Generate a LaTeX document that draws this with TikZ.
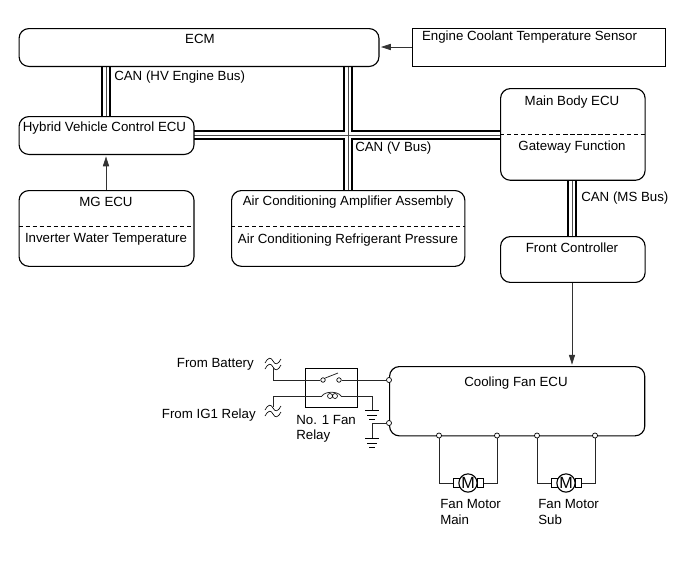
\documentclass[tikz,border=0pt]{standalone}
\usepackage{fontspec}
\setmainfont{Liberation Sans}
\usetikzlibrary{arrows.meta}
\begin{document}
\begin{tikzpicture}[
	x=0.025cm, y=-0.025cm,
	every node/.style={ font=\fontsize{9.45}{10}\selectfont, inner sep=0pt },
	unit/.style={ rectangle, draw, line width=0.8pt, rounded corners=7pt, anchor=north west },
	sensor/.style={ rectangle, draw, line width=0.8pt, anchor=north west },
	bus/.style={ line width=6.5pt, postaction={draw=white, line width=4.3pt, postaction={draw=black!70, line width=0.6pt}} },
	signal/.style={ -{Triangle[length=7pt,width=4.4pt]}, line width=0.5pt, black!80, shorten >=1pt },
	wire/.style={ line width=0.55pt, black!85 },
	split/.style={ dash pattern=on 3pt off 2pt, line width=0.4pt },
	terminal/.style={ circle, draw, line width=0.5pt, fill=white, minimum size=3.6pt },
	contact/.style={ circle, draw, line width=0.5pt, fill=white, minimum size=3.2pt },
	motor/.style={ circle, draw, line width=0.8pt, fill=white, minimum size=13pt, font=\fontsize{11.5}{12}\selectfont },
	brush/.style={ rectangle, draw, line width=0.6pt, fill=white, minimum width=3.8pt, minimum height=6pt },
	wavebreak/.pic={
		\draw[line width=0.45pt] (-8,-1) .. controls (-5,-7) and (-2,-7) .. (0,-3) .. controls (2,1) and (5,1) .. (8,-5);
		\draw[line width=0.45pt] (-8,5) .. controls (-5,-1) and (-2,-1) .. (0,3) .. controls (2,7) and (5,7) .. (8,1);
	},
	earth/.pic={
		\draw[line width=0.6pt] (-7,0) -- (7,0);
		\draw[line width=0.6pt] (-5,5) -- (5,5);
		\draw[line width=0.6pt] (-3,9) -- (3,9);
	}
]
\useasboundingbox (0,0) rectangle (690,562);

% CAN lines, drawn below the units
\coordinate (ecmbot) at (348,66);
\coordinate (acnorth) at (348,190);
\coordinate (hvbus) at (194,135);
\coordinate (mainbus) at (500,135);
\coordinate (hvtop) at (106,116);
\coordinate (ecmleft) at (106,66);
\coordinate (maindown) at (572,180);
\coordinate (frontup) at (572,236);
\draw[bus] (ecmbot) -- (acnorth) (hvbus) -- (mainbus)
	(ecmleft) -- (hvtop) (maindown) -- (frontup);

\node (ecm) [unit,minimum width=361*0.709pt,minimum height=38*0.709pt] at (18.5,28) {};
\node at (200,39) {ECM};
\node (coolant) [sensor,minimum width=254*0.709pt,minimum height=38*0.709pt] at (412,28) {};
\node at (529.5,37.5) {Engine Coolant Temperature Sensor};
\node (hv) [unit,minimum width=175.5*0.709pt,minimum height=38*0.709pt] at (18.5,116) {};
\node at (104.5,128) {Hybrid Vehicle Control ECU};
\node (mainbody) [unit,minimum width=145*0.709pt,minimum height=92*0.709pt] at (500,88) {};
\node at (572,102) {Main Body ECU};
\draw[split] (500,134) -- (645,134);
\node at (572,147) {Gateway Function};
\node (mg) [unit,minimum width=175.5*0.709pt,minimum height=76*0.709pt] at (18.5,190) {};
\node at (106,202) {MG ECU};
\draw[split] (18.5,226) -- (194,226);
\node at (106,239) {Inverter Water Temperature};
\node (ac) [unit,minimum width=234*0.709pt,minimum height=76*0.709pt] at (231,190) {};
\node at (348,202) {Air Conditioning Amplifier Assembly};
\draw[split] (231,226) -- (465,226);
\node at (348,240) {Air Conditioning Refrigerant Pressure};
\node (front) [unit,minimum width=145*0.709pt,minimum height=46*0.709pt] at (500,236) {};
\node at (572,248) {Front Controller};
\node (fan) [unit,minimum width=256*0.709pt,minimum height=69.5*0.709pt] at (389,366) {};
\node at (516,383) {Cooling Fan ECU};

\node (canhv) [anchor=west] at (114,77) {CAN (HV Engine Bus)};
\node (canv) [anchor=west] at (355,148) {CAN (V Bus)};
\node (canms) [anchor=west] at (581,198) {CAN (MS Bus)};

\draw[signal] (coolant.west |- 0,47) -- (ecm.east |- 0,47);
\draw[signal] (mg.north -| hvtop) -- (hv.south -| hvtop);
\draw[signal] (front.south -| frontup) -- (fan.north -| frontup);

% fan relay
\node (relay) [sensor,minimum width=52*0.709pt,minimum height=39*0.709pt] at (305,368) {};
\node (nofan) [anchor=west] at (296,420) {No. 1 Fan};
\node (norelay) [anchor=west] at (296,436) {Relay};
\node (battery) [anchor=east] at (254,364) {From Battery};
\node (igrelay) [anchor=east] at (256,415) {From IG1 Relay};
\pic at (273,364) {wavebreak};
\pic at (273,411) {wavebreak};
\coordinate (batin) at (273,367);
\coordinate (igin) at (273,407);
\node (sw1) [contact] at (323,380) {};
\node (sw2) [contact] at (339,380) {};
\node (t1) [terminal] at (389,380) {};
\node (t2) [terminal] at (389,423) {};
\draw[wire] (batin) |- (sw1);
\draw[wire] (sw2) -- (t1);
\draw[wire] (sw1.north east) -- (338,373);
% coil
\coordinate (coilin) at (322,396);
\coordinate (coilout) at (341,396);
\coordinate (gnd1) at (372,410);
\coordinate (gnd2) at (372,438);
\draw[wire] (igin) |- (coilin);
\draw[wire] (coilout) -| (gnd1);
\draw[wire] (coilin) .. controls (325,391) and (338,391) .. (coilout);
\draw[line width=0.45pt] (330,396) circle (2.5) (335,396) circle (2.5);
\draw[wire] (t2) -| (gnd2);
\pic at (gnd1) {earth};
\pic at (gnd2) {earth};

% fan motors
\node (a1) [terminal] at (439,435.5) {};
\node (a2) [terminal] at (497,435.5) {};
\node (b1) [terminal] at (537,435.5) {};
\node (b2) [terminal] at (595,435.5) {};
\node (mainl) [brush] at (456.5,483) {};
\node (mainr) [brush] at (480.5,483) {};
\node (subl) [brush] at (554.5,483) {};
\node (subr) [brush] at (578.5,483) {};
\node (mainm) [motor] at (468,483) {M};
\node (subm) [motor] at (566,483) {M};
\draw[wire] (a1) |- (mainl);
\draw[wire] (a2) |- (mainr);
\draw[wire] (b1) |- (subl);
\draw[wire] (b2) |- (subr);
\node (mainone) [anchor=west] at (440,504) {Fan Motor};
\node (maintwo) [anchor=west] at (440,520) {Main};
\node (subone) [anchor=west] at (538,504) {Fan Motor};
\node (subtwo) [anchor=west] at (538,520) {Sub};

\end{tikzpicture}
\end{document}
